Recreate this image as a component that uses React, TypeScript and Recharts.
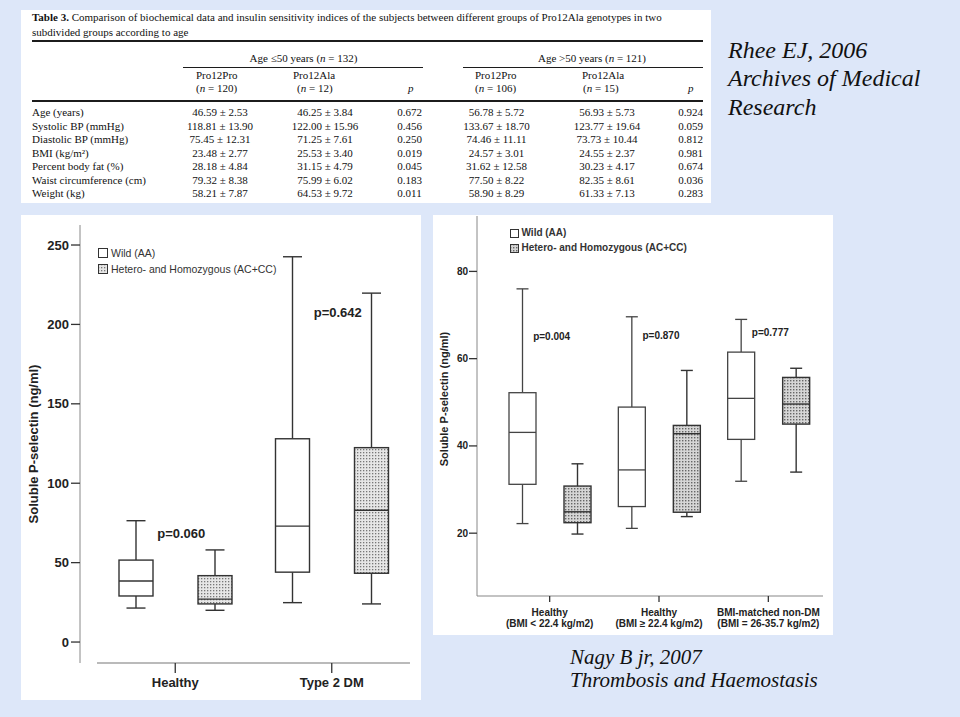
import React from 'react';
import { ComposedChart, Bar, XAxis, YAxis, ReferenceDot, Legend } from 'recharts';

const BG = '#dde7f9';
const SANS = '"Liberation Sans", Arial, Helvetica, sans-serif';
const SERIF = '"Liberation Serif", "Times New Roman", Times, serif';
const INK = '#222';

// ---------------- Table (Rhee EJ, 2006) ----------------
const tableTitleBold = 'Table 3.';
const tableTitleRest = ' Comparison of biochemical data and insulin sensitivity indices of the subjects between different groups of Pro12Ala genotypes in two';
const tableTitleLine2 = 'subdivided groups according to age';
const ageGroupLabels = ['Age ≤50 years', 'Age >50 years'];
const ageGroupN = [132, 121];
const genotypeLabels = ['Pro12Pro', 'Pro12Ala', 'Pro12Pro', 'Pro12Ala'];
const genotypeN = [120, 12, 106, 15];
const rowLabels = ['Age (years)', 'Systolic BP (mmHg)', 'Diastolic BP (mmHg)', 'BMI (kg/m²)', 'Percent body fat (%)', 'Waist circumference (cm)', 'Weight (kg)'];
const youngProPro = ['46.59 ± 2.53', '118.81 ± 13.90', '75.45 ± 12.31', '23.48 ± 2.77', '28.18 ± 4.84', '79.32 ± 8.38', '58.21 ± 7.87'];
const youngProAla = ['46.25 ± 3.84', '122.00 ± 15.96', '71.25 ± 7.61', '25.53 ± 3.40', '31.15 ± 4.79', '75.99 ± 6.02', '64.53 ± 9.72'];
const youngP = ['0.672', '0.456', '0.250', '0.019', '0.045', '0.183', '0.011'];
const oldProPro = ['56.78 ± 5.72', '133.67 ± 18.70', '74.46 ± 11.11', '24.57 ± 3.01', '31.62 ± 12.58', '77.50 ± 8.22', '58.90 ± 8.29'];
const oldProAla = ['56.93 ± 5.73', '123.77 ± 19.64', '73.73 ± 10.44', '24.55 ± 2.37', '30.23 ± 4.17', '82.35 ± 8.61', '61.33 ± 7.13'];
const oldP = ['0.924', '0.059', '0.812', '0.981', '0.674', '0.036', '0.283'];

// ---------------- Citations ----------------
const citationTop = ['Rhee EJ, 2006', 'Archives of Medical', 'Research'];
const citationBottom = ['Nagy B jr, 2007', 'Thrombosis and Haemostasis'];

// ---------------- Box plots ----------------
const legendLabels = ['Wild (AA)', 'Hetero- and Homozygous (AC+CC)'];
const yAxisTitle = 'Soluble P-selectin (ng/ml)';

// each box: [min, Q1, median, Q3, max]
const leftGroups = ['Healthy', 'Type 2 DM'];
const leftWild = [[21.4, 29.0, 38.4, 51.6, 76.4], [24.8, 44.0, 73.0, 128.0, 242.6]];
const leftHetero = [[20.0, 24.0, 27.0, 41.8, 58.0], [24.0, 43.3, 83.0, 122.4, 219.7]];
const leftPLabels = ['p=0.060', 'p=0.642'];
const leftPLabelAt = [68.6, 207.8];
const leftYTicks = [0, 50, 100, 150, 200, 250];

const rightGroupTitles = ['Healthy', 'Healthy', 'BMI-matched non-DM'];
const rightGroupSubtitles = ['(BMI < 22.4 kg/m2)', '(BMI ≥ 22.4 kg/m2)', '(BMI = 26-35.7 kg/m2)'];
const rightWild = [[22.2, 31.2, 43.1, 52.2, 76.0], [21.1, 26.1, 34.5, 48.9, 69.6], [31.9, 41.5, 50.9, 61.5, 69.0]];
const rightHetero = [[19.8, 22.4, 24.9, 30.8, 35.9], [23.8, 24.8, 42.8, 44.7, 57.3], [34.0, 45.0, 49.6, 55.7, 57.8]];
const rightPLabels = ['p=0.004', 'p=0.870', 'p=0.777'];
const rightPLabelAt = [65.0, 65.3, 65.9];
const rightYTicks = [20, 40, 60, 80];

const leftData = leftGroups.map((name, i) => ({
  name,
  wild: [leftWild[i][0], leftWild[i][4]],
  wildStats: leftWild[i],
  het: [leftHetero[i][0], leftHetero[i][4]],
  hetStats: leftHetero[i],
}));

const rightData = rightGroupTitles.map((t, i) => ({
  name: t + '\n' + rightGroupSubtitles[i],
  wild: [rightWild[i][0], rightWild[i][4]],
  wildStats: rightWild[i],
  het: [rightHetero[i][0], rightHetero[i][4]],
  hetStats: rightHetero[i],
}));

const makeBox = (statsKey: string, fill: string, capW: number, sw: number, stroke: string) => (props: any) => {
  const { x, y, width, height, payload } = props;
  const s = payload && payload[statsKey];
  if (!s) return <g />;
  const [mn, q1, md, q3, mx] = s;
  const top = height >= 0 ? y : y + height;
  const h = Math.abs(height);
  const py = (v: number) => top + ((mx - v) / (mx - mn)) * h;
  const cx = x + width / 2;
  return (
    <g>
      <line x1={cx} x2={cx} y1={py(mx)} y2={py(q3)} stroke={stroke} strokeWidth={sw} />
      <line x1={cx} x2={cx} y1={py(q1)} y2={py(mn)} stroke={stroke} strokeWidth={sw} />
      <line x1={cx - capW / 2} x2={cx + capW / 2} y1={py(mx)} y2={py(mx)} stroke={stroke} strokeWidth={sw} />
      <line x1={cx - capW / 2} x2={cx + capW / 2} y1={py(mn)} y2={py(mn)} stroke={stroke} strokeWidth={sw} />
      <rect x={x} y={py(q3)} width={width} height={py(q1) - py(q3)} fill={fill} stroke={stroke} strokeWidth={sw} />
      <line x1={x} x2={x + width} y1={py(md)} y2={py(md)} stroke={stroke} strokeWidth={sw} />
    </g>
  );
};

const makeYLabel = (dx: number, dy: number, fontSize: number) => (props: any) => {
  const vb = props.viewBox || {};
  const cx = (vb.x || 0) + dx;
  const cy = (vb.y || 0) + (vb.height || 0) / 2 + dy;
  return (
    <text x={cx} y={cy} transform={`rotate(-90 ${cx} ${cy})`} textAnchor="middle" dominantBaseline="central"
      fontFamily={SANS} fontWeight={700} fontSize={fontSize} fill={INK}>
      {yAxisTitle}
    </text>
  );
};

const makeLegend = (rowH: number, box: number, gap: number, fontSize: number, bold: boolean, pattern: string) => () => (
  <div style={{ display: 'flex', flexDirection: 'column' }}>
    {legendLabels.map((l, i) => (
      <div key={l} style={{ display: 'flex', alignItems: 'center', height: rowH }}>
        <svg width={box + 1} height={box + 1} style={{ display: 'block' }}>
          <rect x={0.5} y={0.5} width={box} height={box} fill={i === 0 ? '#fff' : `url(#${pattern})`} stroke="#333" strokeWidth={1} />
        </svg>
        <span style={{ marginLeft: gap, fontFamily: SANS, fontSize, fontWeight: bold ? 700 : 400, color: '#333', whiteSpace: 'nowrap', lineHeight: 1 }}>{l}</span>
      </div>
    ))}
  </div>
);

const RightTick = (props: any) => {
  const { x, y, payload } = props;
  const [t, s] = String(payload.value).split('\n');
  return (
    <text x={x} y={y} textAnchor="middle" fontFamily={SANS} fontWeight={700} fontSize={10} fill={INK}>
      <tspan x={x} dy={9.6}>{t}</tspan>
      <tspan x={x} dy={11}>{s}</tspan>
    </text>
  );
};

const TT = ({ x, y, align = 'left', children, style }: any) => (
  <div style={{
    position: 'absolute', left: x, top: y - 7, whiteSpace: 'nowrap',
    transform: align === 'center' ? 'translateX(-50%)' : align === 'right' ? 'translateX(-100%)' : undefined,
    fontFamily: SERIF, fontSize: 11, lineHeight: '13px', color: '#111', ...style,
  }}>{children}</div>
);

const Table = () => {
  const rowY0 = 113.3;
  const rowStep = 13.5;
  const colCenters = [220, 325, 409.5, 496.5, 607, 690.5];
  const cols = [youngProPro, youngProAla, youngP, oldProPro, oldProAla, oldP];
  const genoLeft = [196, 293, 475, 582];
  const nLeft = [196, 297, 475, 583];
  const ageCenters = [303.5, 592];
  return (
    <div style={{ position: 'absolute', left: 21, top: 10, width: 690, height: 193, background: '#fff' }}>
      <div style={{ position: 'absolute', left: -21, top: -10 }}>
        <TT x={32} y={18}><b>{tableTitleBold}</b>{tableTitleRest}</TT>
        <TT x={32} y={33}>{tableTitleLine2}</TT>
        <div style={{ position: 'absolute', left: 32, top: 40, width: 671, height: 2, background: '#1c1c1c' }} />
        {ageGroupLabels.map((a, i) => (
          <TT key={a} x={ageCenters[i]} y={59} align="center">{a} (<i>n</i> = {ageGroupN[i]})</TT>
        ))}
        <div style={{ position: 'absolute', left: 183, top: 66.5, width: 240, height: 1, background: '#1c1c1c' }} />
        <div style={{ position: 'absolute', left: 463, top: 66.5, width: 240, height: 1, background: '#1c1c1c' }} />
        {genotypeLabels.map((g, i) => (
          <React.Fragment key={i}>
            <TT x={genoLeft[i]} y={76}>{g}</TT>
            <TT x={nLeft[i]} y={89}>(<i>n</i> = {genotypeN[i]})</TT>
          </React.Fragment>
        ))}
        <TT x={408} y={89}><i>p</i></TT>
        <TT x={688} y={89}><i>p</i></TT>
        <div style={{ position: 'absolute', left: 32, top: 100, width: 671, height: 2, background: '#1c1c1c' }} />
        {rowLabels.map((r, i) => (
          <React.Fragment key={r}>
            <TT x={32} y={rowY0 + i * rowStep}>{r}</TT>
            {cols.map((c, j) => (
              <TT key={j} x={colCenters[j]} y={rowY0 + i * rowStep} align="center">{c[i]}</TT>
            ))}
          </React.Fragment>
        ))}
      </div>
    </div>
  );
};

const pLabelStyle = (value: string, fontSize: number, dx: number) => ({ value, position: 'center' as const, fill: INK, fontSize, fontWeight: 700, fontFamily: SANS, dx });

export default function App() {
  return (
    <div style={{ position: 'absolute', left: 0, top: 0, width: 960, height: 717, background: BG, overflow: 'hidden' }}>
      <svg width={0} height={0} style={{ position: 'absolute' }}>
        <defs>
          <pattern id="dotsL" width={3} height={3} patternUnits="userSpaceOnUse">
            <rect width={3} height={3} fill="#e6e6e6" />
            <rect width={1.3} height={1.3} fill="#777" />
          </pattern>
          <pattern id="dotsR" width={3} height={3} patternUnits="userSpaceOnUse">
            <rect width={3} height={3} fill="#d6d6d6" />
            <rect width={1.4} height={1.4} fill="#666" />
          </pattern>
        </defs>
      </svg>

      <Table />

      <div style={{ position: 'absolute', left: 728, top: 36, fontFamily: SERIF, fontStyle: 'italic', fontSize: 24, lineHeight: '28.4px', color: '#111', whiteSpace: 'nowrap' }}>
        {citationTop.map((c) => <div key={c}>{c}</div>)}
      </div>

      <div style={{ position: 'absolute', left: 570, top: 645.5, fontFamily: SERIF, fontStyle: 'italic', fontSize: 21, lineHeight: '23px', color: '#111', whiteSpace: 'nowrap' }}>
        {citationBottom.map((c) => <div key={c}>{c}</div>)}
      </div>

      {/* Left box plot */}
      <div style={{ position: 'absolute', left: 21, top: 215, width: 400, height: 485, background: '#fff' }}>
        <ComposedChart width={400} height={485} data={leftData} margin={{ top: 10, right: 11, bottom: 0, left: 0 }} barGap={45} barSize={34}>
          <XAxis dataKey="name" padding={{ left: 17, right: 0 }} height={37} tickSize={10} tickMargin={5} interval={0}
            axisLine={{ stroke: '#777', strokeWidth: 1.2, strokeDasharray: '0 17 2000 0' }}
            tickLine={{ stroke: '#333', strokeWidth: 1.3 }}
            tick={{ fill: INK, fontSize: 13, fontWeight: 700, fontFamily: SANS }} />
          <YAxis domain={[-13.2, 262.6]} ticks={leftYTicks} allowDataOverflow width={59} tickSize={9} tickMargin={2} interval={0}
            axisLine={{ stroke: '#888', strokeWidth: 1 }} tickLine={{ stroke: '#333', strokeWidth: 1.3 }}
            tick={{ fill: INK, fontSize: 13, fontWeight: 700, fontFamily: SANS }}
            label={makeYLabel(12, 0, 13)} />
          <Bar dataKey="wild" isAnimationActive={false} shape={makeBox('wildStats', '#fff', 19, 1.4, '#333')} />
          <Bar dataKey="het" isAnimationActive={false} shape={makeBox('hetStats', 'url(#dotsL)', 19, 1.4, '#333')} />
          {leftGroups.map((g, i) => (
            <ReferenceDot key={g} x={g} y={leftPLabelAt[i]} r={0} fill="none" stroke="none" label={pLabelStyle(leftPLabels[i], 13, 6)} />
          ))}
          <Legend layout="vertical" align="center" verticalAlign="middle" wrapperStyle={{ left: 77, top: 30, width: 320, height: 32 }}
            content={makeLegend(16, 9, 3, 10.5, false, 'dotsL')} />
        </ComposedChart>
      </div>

      {/* Right box plot */}
      <div style={{ position: 'absolute', left: 433, top: 215, width: 400, height: 420, background: '#fff' }}>
        <ComposedChart width={400} height={420} data={rightData} margin={{ top: 1, right: 10, bottom: 0, left: 0 }} barGap={28} barSize={27}>
          <XAxis dataKey="name" padding={{ left: 18, right: 0 }} height={39} tickSize={6} tickMargin={4} interval={0}
            axisLine={{ stroke: '#888', strokeWidth: 1.2 }} tickLine={{ stroke: '#333', strokeWidth: 1.3 }}
            tick={<RightTick />} />
          <YAxis domain={[5.6, 92.7]} ticks={rightYTicks} allowDataOverflow width={44} tickSize={8} tickMargin={1} interval={0}
            axisLine={{ stroke: '#888', strokeWidth: 1 }} tickLine={{ stroke: '#333', strokeWidth: 1.3 }}
            tick={{ fill: INK, fontSize: 10, fontWeight: 700, fontFamily: SANS }}
            label={makeYLabel(11, -7, 11)} />
          <Bar dataKey="wild" isAnimationActive={false} shape={makeBox('wildStats', '#fff', 12, 1.3, '#444')} />
          <Bar dataKey="het" isAnimationActive={false} shape={makeBox('hetStats', 'url(#dotsR)', 12, 1.4, '#333')} />
          {rightData.map((d, i) => (
            <ReferenceDot key={d.name} x={d.name} y={rightPLabelAt[i]} r={0} fill="none" stroke="none" label={pLabelStyle(rightPLabels[i], 10, 2)} />
          ))}
          <Legend layout="vertical" align="center" verticalAlign="middle" wrapperStyle={{ left: 77, top: 10.5, width: 300, height: 30 }}
            content={makeLegend(15, 8, 2.5, 10, true, 'dotsR')} />
        </ComposedChart>
      </div>
    </div>
  );
}
